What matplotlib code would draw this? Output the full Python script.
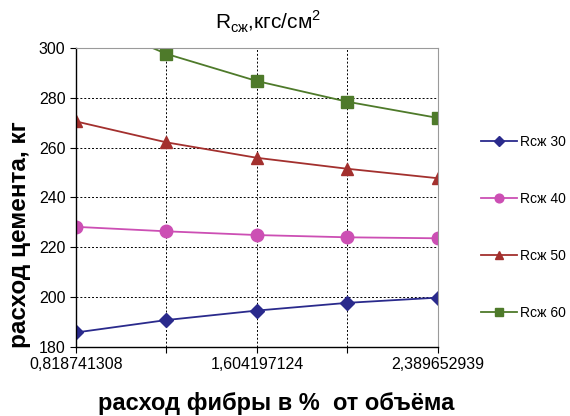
import matplotlib.pyplot as plt

plt.rcParams['font.family'] = ['Liberation Sans', 'DejaVu Sans']
plt.rcParams['mathtext.fontset'] = 'custom'
plt.rcParams['mathtext.rm'] = 'Liberation Sans'

# fibre content, % of volume (category axis)
fiber = [0.818741308, 1.211469216, 1.604197124, 1.996925031, 2.389652939]

# cement consumption, kg
r30 = [185.8, 190.8, 194.6, 197.7, 199.8]
r40 = [228.2, 226.4, 224.9, 224.0, 223.6]
r50 = [270.5, 262.1, 255.9, 251.5, 247.7]
r60 = [313.0, 297.6, 286.7, 278.4, 271.9]

series = [
    ("Rсж 30", r30, "#2A2A8C", "D", 7),
    ("Rсж 40", r40, "#CC4FB4", "o", 9),
    ("Rсж 50", r50, "#A3302E", "^", 9),
    ("Rсж 60", r60, "#4E7A2A", "s", 8.5),
]

fig = plt.figure(figsize=(5.7, 4.16), dpi=100)
ax = fig.add_axes([0.1333, 0.166, 0.635, 0.7188])

x = list(range(len(fiber)))
for name, vals, col, mk, ms in series:
    ax.plot(x, vals, color=col, marker=mk, markersize=ms, linewidth=1.3,
            label=name, clip_on=True)

ax.set_xlim(0, len(fiber) - 1)
ax.set_ylim(180, 300)
ax.set_yticks(range(180, 301, 20))
ax.set_xticks(x)
ax.set_xticklabels([f"{v:.9f}".replace(".", ",") if i % 2 == 0 else ""
                    for i, v in enumerate(fiber)])
ax.tick_params(labelsize=11.5, length=4, direction='out', colors='black')
ax.tick_params(axis='x', pad=3)

ax.grid(True, color='black', linestyle=(0, (2, 2)), linewidth=0.7)
for s in ['top', 'right']:
    ax.spines[s].set_color('#9a9a9a')
for s in ['left', 'bottom']:
    ax.spines[s].set_color('black')
    ax.spines[s].set_linewidth(1.0)

fig.text(0.47, 0.947, "R$_{\\mathregular{сж}}$,кгс/см$^{\\mathregular{2}}$",
         ha='center', va='center', fontsize=15)
fig.text(0.035, 0.435, "расход цемента, кг", rotation=90, ha='center',
         va='center', fontsize=17.5, fontweight='bold')
fig.text(0.485, 0.03, "расход фибры в %  от объёма", ha='center',
         va='center', fontsize=17, fontweight='bold')

fig.legend(loc='center left', bbox_to_anchor=(0.843, 0.454), frameon=False,
           fontsize=10, labelspacing=3.1, handlelength=2.6, handletextpad=0.25,
           markerscale=0.7, borderaxespad=0, borderpad=0)

fig.savefig("out.png", dpi=100)
